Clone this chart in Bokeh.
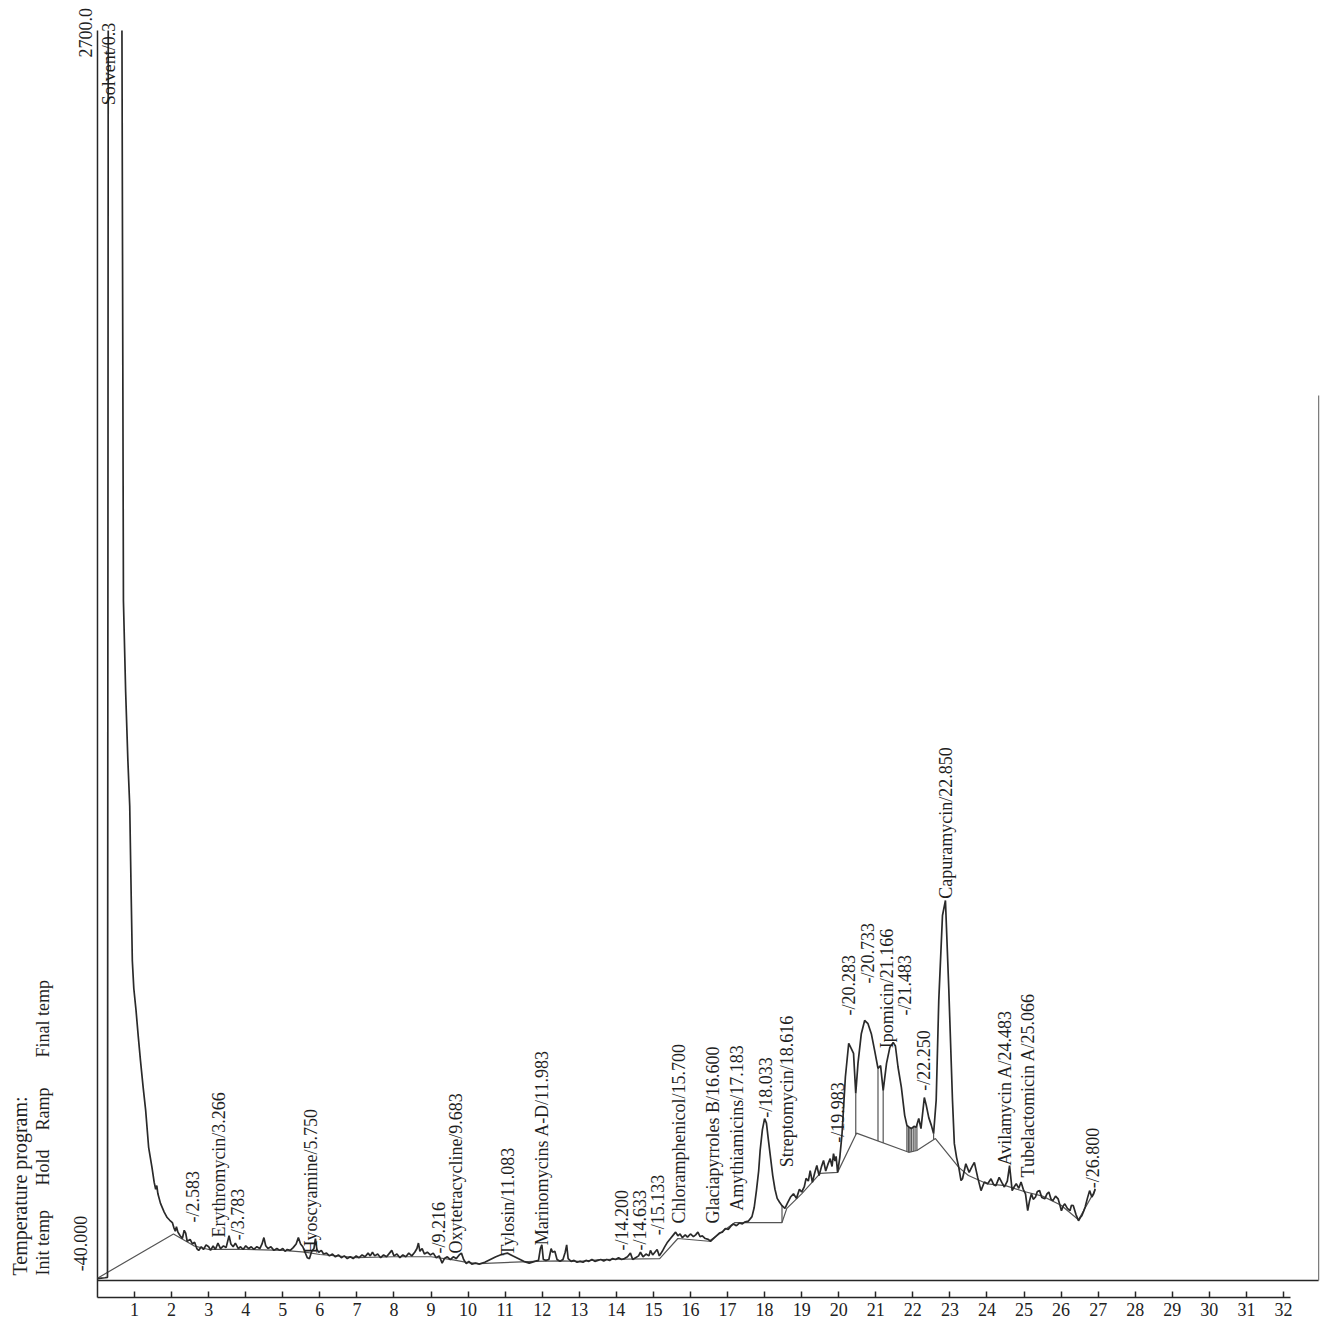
import numpy as np
from bokeh.plotting import figure
from bokeh.models import FixedTicker, ColumnDataSource
from bokeh.core.properties import value
from bokeh.embed import file_html
from bokeh.resources import INLINE

# ---- detector trace (retention time in min, signal); full scale of the recorder is 2700 ----
time_min = [0.00, 0.10, 0.20, 0.27, 0.29, 0.295, 0.66, 0.70, 0.76, 0.82, 0.87, 0.91, 0.94, 0.98, 1.04, 1.10, 1.16, 1.23, 1.30, 1.38, 1.47,
            1.53, 1.57, 1.60, 1.63, 1.70, 1.80, 1.88, 1.95, 2.02, 2.06, 2.10, 2.13, 2.17, 2.23, 2.29, 2.34, 2.38, 2.42, 2.50, 2.56,
            2.62, 2.68, 2.73, 2.80, 2.86, 2.93, 3.00, 3.05, 3.12, 3.18, 3.25, 3.32, 3.40, 3.47, 3.55, 3.60, 3.66, 3.72, 3.80, 3.86,
            3.93, 4.00, 4.08, 4.15, 4.22, 4.30, 4.38, 4.44, 4.49, 4.54, 4.60, 4.68, 4.76, 4.84, 4.92, 5.00, 5.06, 5.12, 5.20, 5.28,
            5.36, 5.42, 5.48, 5.54, 5.60, 5.66, 5.72, 5.78, 5.84, 5.88, 5.92, 5.97, 6.04, 6.10, 6.18, 6.26, 6.34, 6.42, 6.50, 6.58,
            6.66, 6.74, 6.82, 6.90, 6.98, 7.06, 7.14, 7.22, 7.30, 7.36, 7.42, 7.48, 7.56, 7.64, 7.72, 7.80, 7.88, 7.94, 8.00, 8.08,
            8.16, 8.24, 8.32, 8.40, 8.48, 8.56, 8.62, 8.66, 8.70, 8.76, 8.82, 8.90, 8.98, 9.06, 9.14, 9.22, 9.30, 9.36, 9.44, 9.52,
            9.60, 9.68, 9.76, 9.82, 9.88, 9.95, 10.02, 10.10, 10.20, 10.30, 10.45, 10.60, 10.75, 10.90, 11.06, 11.20, 11.35, 11.50, 11.65, 11.80,
            11.90, 11.95, 11.99, 12.03, 12.10, 12.18, 12.24, 12.28, 12.34, 12.40, 12.48, 12.56, 12.62, 12.66, 12.70, 12.78, 12.86, 12.94, 13.02, 13.10,
            13.18, 13.26, 13.34, 13.42, 13.50, 13.58, 13.66, 13.74, 13.82, 13.90, 13.98, 14.06, 14.14, 14.22, 14.30, 14.38, 14.44, 14.52, 14.60, 14.65,
            14.72, 14.80, 14.88, 14.92, 14.98, 15.04, 15.10, 15.16, 15.24, 15.30, 15.38, 15.46, 15.54, 15.60, 15.66, 15.72, 15.78, 15.86, 15.92, 16.00,
            16.08, 16.14, 16.20, 16.26, 16.32, 16.40, 16.48, 16.54, 16.62, 16.70, 16.78, 16.86, 16.94, 17.02, 17.10, 17.16, 17.24, 17.32, 17.40, 17.46,
            17.56, 17.66, 17.72, 17.78, 17.84, 17.88, 17.94, 18.00, 18.05, 18.10, 18.16, 18.22, 18.28, 18.34, 18.40, 18.47, 18.55, 18.62, 18.70, 18.78,
            18.86, 18.94, 19.00, 19.07, 19.12, 19.18, 19.23, 19.29, 19.35, 19.41, 19.47, 19.53, 19.59, 19.65, 19.71, 19.77, 19.82, 19.86, 19.90, 19.93,
            19.97, 20.03, 20.09, 20.18, 20.27, 20.33, 20.40, 20.46, 20.52, 20.61, 20.70, 20.74, 20.79, 20.88, 20.97, 21.06, 21.13, 21.20, 21.29, 21.38,
            21.47, 21.53, 21.60, 21.69, 21.78, 21.84, 21.90, 21.96, 22.03, 22.09, 22.16, 22.22, 22.31, 22.36, 22.43, 22.50, 22.56, 22.63, 22.70, 22.80,
            22.88, 22.97, 23.07, 23.12, 23.18, 23.24, 23.30, 23.34, 23.43, 23.52, 23.60, 23.66, 23.75, 23.84, 23.93, 24.02, 24.11, 24.18, 24.24, 24.33,
            24.40, 24.47, 24.55, 24.61, 24.68, 24.74, 24.79, 24.86, 24.92, 24.98, 25.04, 25.10, 25.15, 25.20, 25.25, 25.31, 25.36, 25.42, 25.48, 25.56,
            25.62, 25.67, 25.73, 25.78, 25.85, 25.92, 25.97, 26.01, 26.06, 26.10, 26.17, 26.24, 26.28, 26.33, 26.40, 26.47, 26.52, 26.56, 26.61, 26.65,
            26.71, 26.77, 26.83, 26.88, 26.92]
signal_mv = [-36, -35, -34, -33, 2700, float("nan"), 2700, 1450, 1250, 1100, 1000, 800, 661, 600, 552, 495, 442, 385, 333, 252, 208,
             175, 160, 168, 150, 129, 110, 98, 92, 87, 76, 68, 78, 66, 58, 52, 70, 64, 46, 50, 40,
             44, 30, 26, 34, 28, 38, 34, 26, 36, 28, 42, 30, 36, 32, 58, 40, 34, 42, 30, 34,
             28, 36, 30, 34, 28, 34, 30, 40, 54, 36, 30, 34, 26, 30, 26, 30, 24, 28, 26, 32,
             40, 54, 40, 34, 22, 10, 8, 24, 30, 52, 28, 22, 26, 18, 20, 14, 18, 12, 16, 10,
             14, 8, 12, 8, 14, 10, 16, 12, 20, 14, 22, 14, 18, 10, 16, 12, 20, 26, 14, 18,
             10, 16, 12, 20, 14, 22, 30, 42, 24, 30, 18, 22, 16, 20, 10, 14, -2, 8, 12, 6,
             12, 8, 16, 20, 6, -3, 2, -4, -2, -4, 0, 6, 12, 17, 20, 14, 8, 2, -2, 2,
             4, 30, 38, 6, 4, 6, 30, 22, 24, 6, 2, 6, 22, 38, 8, 2, 4, 0, 2, 0,
             4, 2, 6, 2, 4, 6, 3, 6, 4, 8, 6, 10, 6, 8, 12, 20, 6, 10, 14, 22,
             12, 18, 14, 26, 16, 22, 28, 14, 24, 33, 44, 52, 60, 66, 58, 62, 54, 60, 55, 62,
             56, 60, 66, 56, 58, 52, 50, 46, 52, 58, 64, 66, 74, 72, 80, 84, 80, 86, 84, 88,
             90, 100, 120, 157, 200, 245, 290, 315, 305, 270, 230, 190, 160, 140, 132, 124, 118, 130, 143, 150,
             140, 160, 154, 165, 184, 178, 201, 175, 195, 212, 190, 208, 223, 200, 215, 227, 210, 238, 222, 232,
             197, 230, 282, 406, 480, 470, 458, 370, 436, 501, 530, 527, 523, 501, 464, 425, 431, 376, 436, 471,
             482, 474, 428, 384, 322, 300, 296, 293, 298, 296, 315, 293, 361, 345, 317, 300, 282, 355, 574, 760,
             793, 600, 355, 260, 230, 208, 179, 183, 216, 197, 210, 219, 186, 157, 176, 172, 183, 170, 168, 186,
             175, 165, 178, 212, 157, 166, 172, 162, 176, 160, 150, 113, 135, 150, 138, 143, 155, 157, 142, 139,
             150, 154, 138, 135, 145, 139, 125, 113, 124, 128, 118, 113, 125, 124, 105, 91, 98, 102, 112, 121,
             140, 157, 143, 150, 161]

# ---- integrator baseline ----
base_time = [0.00, 2.05, 2.60, 3.00, 4.00, 5.00, 5.60, 6.00, 7.00, 8.00, 9.00, 9.60, 10.00, 10.30, 11.80, 12.50, 13.00, 13.60,
             15.17, 15.66, 16.50, 17.20, 18.47, 18.60, 19.00, 19.50, 19.97, 20.48, 21.89, 22.11, 22.61, 23.24, 23.50, 24.00,
             24.50, 25.00, 25.50, 26.00, 26.47, 26.92]
base_mv = [-35, 62, 36, 28, 28, 26, 22, 17, 10, 12, 12, 5, -1, -3, 2, 3, 2, 6,
           8, 52, 46, 87, 87, 118, 150, 195, 197, 283, 241, 245, 271, 208, 190, 172,
           168, 155, 145, 125, 93, 158]
drop_times = [18.47, 19.97, 20.46, 21.06, 21.20, 21.84, 21.88, 21.92, 21.96, 22.01, 22.06, 22.11, 22.56]

# ---- peak annotations (name/retention time, time at which the label is printed, signal where it starts) ----
peak_names = ["Solvent/0.3", "-/2.583", "Erythromycin/3.266", "-/3.783", "Hyoscyamine/5.750", "-/9.216",
              "Oxytetracycline/9.683", "Tylosin/11.083", "Marinomycins A-D/11.983", "-/14.200", "-/14.633", "-/15.133",
              "Chloramphenicol/15.700", "Glaciapyrroles B/16.600", "Amythiamicins/17.183", "-/18.033", "Streptomycin/18.616",
              "-/19.983", "-/20.283", "-/20.733", "Ipomicin/21.166", "-/21.483", "-/22.250", "Capuramycin/22.850",
              "Avilamycin A/24.483", "Tubelactomicin A/25.066", "-/26.800"]
peak_label_t = [0.30, 2.583, 3.266, 3.783, 5.750, 9.216, 9.683, 11.083, 11.983, 14.15, 14.633, 15.133,
                15.700, 16.600, 17.25, 18.033, 18.616, 19.983, 20.283, 20.80, 21.29, 21.80, 22.30, 22.90,
                24.483, 25.10, 26.85]
peak_label_mv = [2536, 87, 54, 48, 19, 19, 19, 15, 37, 26, 26, 59,
                 85, 85, 113, 317, 208, 262, 541, 611, 469, 541, 376, 797,
                 212, 186, 162]

# ---- scale captions and temperature program header ----
cap_text = ["2700.0", "-40.000", "Temperature program:", "Init temp", "Hold", "Ramp", "Final temp"]
cap_x = [-0.32, -0.46, -2.08, -1.46, -1.46, -1.46, -1.46]
cap_y = [2641, -20, -29, -29, 168, 289, 449]
cap_size = ["18px", "18px", "20px", "18px", "18px", "18px", "18px"]

x_ticks = list(range(1, 33))
y_top, y_init = 2700.0, -40.0
t_end = 32.2
axis_level = -77.3

SERIF = "Liberation Serif"
INK = "#262626"

p = figure(width=1320, height=1320, output_backend="svg", toolbar_location=None,
           x_range=(-2.617, 33.0), y_range=(-127.7, 2765.8),
           min_border_left=0, min_border_right=0, min_border_top=0, min_border_bottom=0)
p.yaxis.visible = False
p.xgrid.visible = False
p.ygrid.visible = False
p.outline_line_color = None
p.background_fill_color = "white"
p.border_fill_color = "white"

ax = p.xaxis[0]
ax.fixed_location = axis_level
ax.ticker = FixedTicker(ticks=x_ticks)
ax.bounds = (0, t_end)
ax.major_tick_in = 6
ax.major_tick_out = 0
ax.minor_tick_line_color = None
ax.axis_line_color = INK
ax.axis_line_width = 1.5
ax.major_tick_line_color = INK
ax.major_tick_line_width = 1.5
ax.major_label_text_font = SERIF
ax.major_label_text_font_size = "18px"
ax.major_label_text_color = "#222222"
ax.major_label_standoff = 5

# frame lines: signal axis, -40 reference line, right edge of the chart paper
p.segment(x0=[0], y0=[axis_level], x1=[0], y1=[y_top], line_color=INK, line_width=1.5)
p.segment(x0=[0], y0=[y_init], x1=[32.95], y1=[y_init], line_color=INK, line_width=1.5)
p.segment(x0=[32.95], y0=[y_init], x1=[32.95], y1=[1900], line_color="#777777", line_width=1.2)

# integrator baseline and drop lines
p.line(base_time, base_mv, line_color="#555555", line_width=1.2)
drop_top = np.interp(drop_times, time_min[6:], signal_mv[6:])
drop_bot = np.interp(drop_times, base_time, base_mv)
p.segment(x0=drop_times, y0=drop_top, x1=drop_times, y1=drop_bot, line_color="#555555", line_width=1.2)

# trace
p.line(time_min, signal_mv, line_color="#2a2a2a", line_width=1.7)

# peak labels
src = ColumnDataSource(dict(x=peak_label_t, y=peak_label_mv, t=peak_names))
p.text(x="x", y="y", text="t", source=src, angle=np.pi / 2,
       text_align="left", text_baseline="middle",
       text_font=value(SERIF), text_font_size="18px", text_color="#1e1e1e")

capsrc = ColumnDataSource(dict(x=cap_x, y=cap_y, t=cap_text, s=cap_size))
p.text(x="x", y="y", text="t", source=capsrc, angle=np.pi / 2,
       text_align="left", text_baseline="middle",
       text_font=value(SERIF), text_font_size="s", text_color="#1e1e1e")

open("out.html", "w").write(file_html(p, INLINE))
